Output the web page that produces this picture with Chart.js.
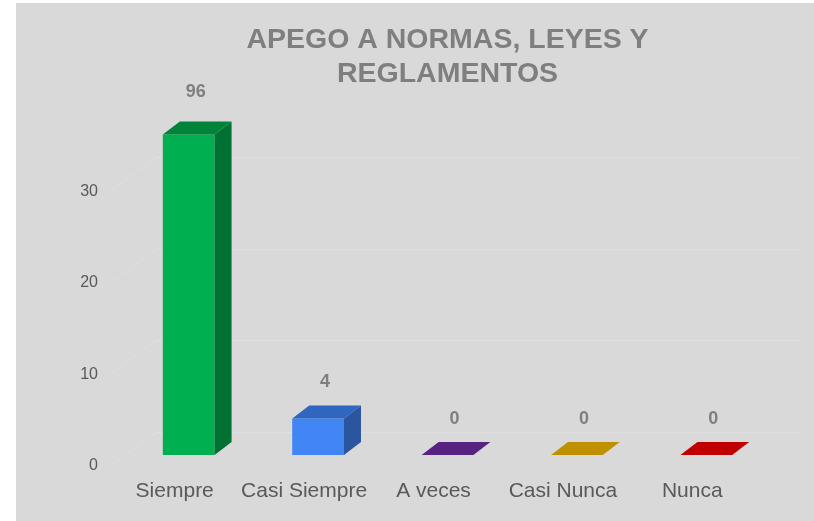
<!DOCTYPE html>
<html>
<head>
<meta charset="utf-8">
<script src="https://cdn.jsdelivr.net/npm/chart.js@4/dist/chart.umd.min.js"></script>
<style>
  html, body { margin: 0; padding: 0; background: #fff; }
  #wrap { width: 814px; height: 521px; }
</style>
</head>
<body>
<div id="wrap"><canvas id="chart" width="814" height="521"></canvas></div>
<script>
const categories = ["Siempre", "Casi Siempre", "A veces", "Casi Nunca", "Nunca"];
const barHeights = [35, 4, 0, 0, 0];
const valueLabels = ["96", "4", "0", "0", "0"];
const yTicks = [0, 10, 20, 30];

const frontColors = ["#00b050", "#4285f4", "#582280", "#bf9000", "#c00000"];
const sideColors = ["#007033", "#2a56a0", "#3b1656", "#7f6000", "#800000"];
const topColors = ["#00843a", "#3166c0", "#582280", "#bf9000", "#c00000"];

// fake 3D depth (front -> back)
const DX = 17, DY = 13;

const chartBg = {
  id: "chartBg",
  beforeDraw(chart) {
    const c = chart.ctx;
    c.save();
    c.fillStyle = "#d9d9d9";
    c.fillRect(16, 3, 798, 518);
    c.restore();
  }
};

const wallGrid = {
  id: "wallGrid",
  beforeDatasetsDraw(chart) {
    const c = chart.ctx;
    const ys = chart.scales.y;
    const left = chart.chartArea.left;
    c.save();
    c.strokeStyle = "#dfdfdf";
    c.lineWidth = 1;
    ys.ticks.forEach((t) => {
      const y = Math.round(ys.getPixelForValue(t.value)) + 0.5;
      c.beginPath();
      c.moveTo(left - 14, y + 11);
      c.lineTo(left + 32, y - 23);
      c.lineTo(802, y - 23);
      c.stroke();
    });
    c.restore();
  }
};

const bars3d = {
  id: "bars3d",
  afterDatasetsDraw(chart) {
    const c = chart.ctx;
    const meta = chart.getDatasetMeta(0);
    c.save();
    meta.data.forEach((bar, i) => {
      const l = bar.x - bar.width / 2, r = bar.x + bar.width / 2;
      const t = bar.y, b = bar.base;
      if (b - t > 0.5) {
        c.fillStyle = sideColors[i];
        c.beginPath();
        c.moveTo(r, t); c.lineTo(r + DX, t - DY); c.lineTo(r + DX, b - DY); c.lineTo(r, b);
        c.closePath(); c.fill();
      }
      c.fillStyle = topColors[i];
      c.beginPath();
      c.moveTo(l, t); c.lineTo(r, t); c.lineTo(r + DX, t - DY); c.lineTo(l + DX, t - DY);
      c.closePath(); c.fill();
      // value label
      c.fillStyle = "#7f7f7f";
      c.font = "bold 18px 'Liberation Sans', Arial, sans-serif";
      c.textAlign = "center";
      c.textBaseline = "middle";
      c.fillText(valueLabels[i], bar.x + 7, t - (i === 0 ? 43 : 36));
    });
    c.restore();
  }
};

new Chart(document.getElementById("chart"), {
  type: "bar",
  data: {
    labels: categories,
    datasets: [{
      data: barHeights,
      backgroundColor: frontColors,
      borderWidth: 0,
      barPercentage: 0.4,
      categoryPercentage: 1
    }]
  },
  options: {
    responsive: false,
    animation: false,
    layout: { padding: { top: 23, right: 43, bottom: 0, left: 0 } },
    plugins: {
      legend: { display: false },
      tooltip: { enabled: false },
      title: {
        display: true,
        fullSize: false,
        text: ["APEGO A NORMAS, LEYES Y", "REGLAMENTOS"],
        color: "#7f7f7f",
        font: { family: "'Liberation Sans', Arial, sans-serif", size: 28.5, weight: "bold", lineHeight: 1.2 },
        padding: { top: 0, bottom: 34 }
      }
    },
    scales: {
      x: {
        grid: { display: false, drawTicks: false },
        border: { display: false },
        ticks: {
          color: "#595959",
          font: { family: "'Liberation Sans', Arial, sans-serif", size: 21 },
          padding: 24,
          labelOffset: -14,
          maxRotation: 0,
          autoSkip: false
        },
        afterFit(scale) { scale.height = 66; }
      },
      y: {
        min: 0,
        max: 36,
        grid: { display: false, drawTicks: false },
        border: { display: false },
        ticks: {
          stepSize: 10,
          includeBounds: false,
          color: "#595959",
          font: { family: "'Liberation Sans', Arial, sans-serif", size: 16 },
          padding: 26,
          labelOffset: 11
        },
        afterBuildTicks(scale) { scale.ticks = yTicks.map((v) => ({ value: v })); },
        afterFit(scale) { scale.width = 124; }
      }
    }
  },
  plugins: [chartBg, wallGrid, bars3d]
});
</script>
</body>
</html>
